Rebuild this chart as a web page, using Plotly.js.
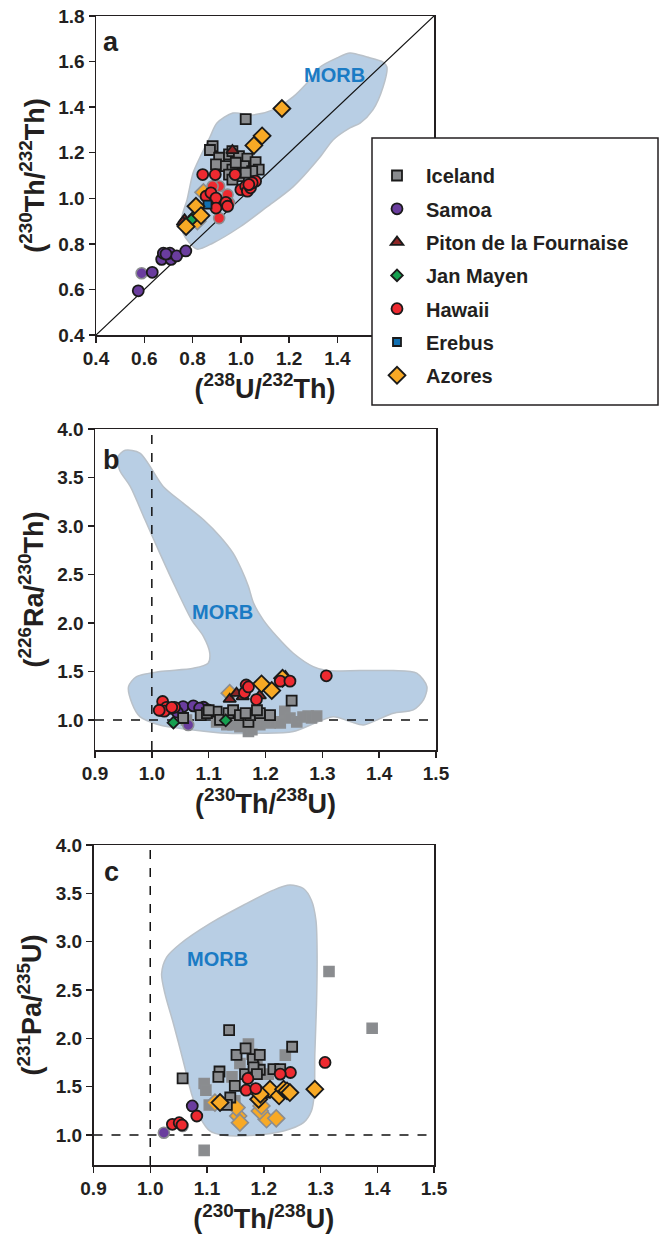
<!DOCTYPE html>
<html><head><meta charset="utf-8">
<script src="https://cdn.plot.ly/plotly-3.0.1.min.js"></script>
<style>html,body{margin:0;padding:0;background:#fff}#chart{width:664px;height:1234px}</style>
</head><body><div id="chart"></div>
<script>
// ---------- Panel a: (238U/232Th) vs (230Th/232Th) ----------
const aMorbX = [0.818,0.885,0.996,1.108,1.216,1.328,1.382,1.452,1.494,1.547,1.589,1.605,1.589,1.522,1.452,1.398,1.328,1.274,1.216,1.133,1.050,0.967,0.901,0.872,0.831,0.802,0.777,0.756,0.760,0.818];
const aMorbY = [0.777,0.804,0.874,0.962,1.050,1.181,1.256,1.309,1.330,1.388,1.488,1.576,1.598,1.620,1.638,1.616,1.576,1.506,1.445,1.388,1.366,1.374,1.330,1.269,1.181,1.111,0.993,0.918,0.848,0.777];
const equiline = [0.4, 1.8];
const aIcelandX = [1.02,0.883,0.872,0.91,0.951,0.965,0.992,1.027,1.061,1.074,0.897,0.938,0.965,1.013,1.047,0.951,0.992,1.02,0.979,0.965];
const aIcelandY = [1.347,1.229,1.212,1.178,1.193,1.207,1.185,1.174,1.159,1.126,1.149,1.141,1.126,1.141,1.119,1.104,1.097,1.112,1.156,1.082];
const aSamoaX = [0.575,0.633,0.672,0.679,0.711,0.706,0.734,0.772,0.69];
const aSamoaY = [0.594,0.675,0.732,0.759,0.732,0.759,0.747,0.769,0.755];
const aSamoaFadedX = [0.589];
const aSamoaFadedY = [0.671];
const aPitonX = [0.767,0.76,0.965];
const aPitonY = [0.906,0.895,1.21];
const aJanMayenX = [0.808,0.795];
const aJanMayenY = [0.921,0.905];
const aHawaiiX = [0.842,0.894,0.976,0.856,0.876,0.897,0.897,0.938,0.945,1.0,1.02,1.027,1.04,1.061,1.047,1.033];
const aHawaiiY = [1.104,1.104,1.104,1.009,1.024,1.001,0.957,0.982,0.965,1.038,1.053,1.031,1.046,1.075,1.068,1.06];
const aHawaiiFadedX = [0.91,0.91,0.945,0.951,0.883];
const aHawaiiFadedY = [0.913,1.053,1.016,0.979,1.053];
const aErebusX = [0.862];
const aErebusY = [0.972];
const aAzoresX = [1.17,1.088,1.054,0.814,0.835,0.773];
const aAzoresY = [1.394,1.274,1.232,0.965,0.924,0.876];
const aAzoresFadedX = [0.845,0.82];
const aAzoresFadedY = [1.026,0.9];

// ---------- Panel b: (230Th/238U) vs (226Ra/230Th) ----------
const bMorbX = [0.953,0.979,1.020,1.055,1.091,1.120,1.143,1.158,1.170,1.179,1.196,1.220,1.249,1.284,1.308,1.366,1.425,1.466,1.484,1.478,1.460,1.425,1.396,1.372,1.349,1.319,1.249,1.190,1.132,1.073,1.014,0.979,0.965,0.959,0.973,1.014,1.073,1.099,1.102,1.091,1.070,1.041,1.014,0.988,0.962,0.943,0.941,0.953];
const bMorbY = [3.780,3.752,3.408,3.236,3.064,2.892,2.720,2.548,2.376,2.204,2.032,1.860,1.688,1.550,1.509,1.509,1.509,1.482,1.344,1.206,1.103,1.069,1.000,0.948,0.983,1.034,0.880,0.862,0.862,0.897,0.948,1.034,1.172,1.344,1.447,1.499,1.533,1.585,1.688,1.860,2.032,2.376,2.720,3.064,3.408,3.580,3.718,3.780];
const refOne = [1, 1];
const bIcelandX = [1.055,1.086,1.097,1.114,1.12,1.135,1.143,1.155,1.17,1.173,1.19,1.208,1.246,1.10,1.165,1.185];
const bIcelandY = [1.02,1.05,1.07,1.085,1.0,1.07,1.10,1.05,0.98,1.05,1.07,1.05,1.20,1.10,1.07,1.10];
const bIcelandFadedX = [1.061,1.114,1.132,1.143,1.155,1.17,1.176,1.19,1.208,1.225,1.226,1.234,1.243,1.255,1.266,1.275,1.281,1.29,1.20,1.15];
const bIcelandFadedY = [1.0,0.98,0.95,0.95,0.93,0.88,0.90,0.95,0.97,0.98,0.97,1.09,1.02,0.98,1.03,1.04,1.02,1.04,1.0,1.0];
const bSamoaX = [1.055,1.073,1.091,1.099,1.084,1.045];
const bSamoaY = [1.138,1.145,1.131,1.103,1.121,1.08];
const bSamoaFadedX = [1.064];
const bSamoaFadedY = [0.948];
const bPitonX = [1.137,1.149,1.16,1.19,1.235];
const bPitonY = [1.214,1.276,1.24,1.25,1.447];
const bJanMayenX = [1.038,1.13];
const bJanMayenY = [0.972,0.995];
const bHawaiiX = [1.019,1.016,1.026,1.034,1.040,1.022,1.013,1.035,1.166,1.163,1.184,1.226,1.243,1.307,1.17];
const bHawaiiY = [1.19,1.10,1.13,1.12,1.13,1.09,1.10,1.13,1.36,1.28,1.21,1.40,1.40,1.455,1.34];
const bAzoresX = [1.193,1.211,1.23];
const bAzoresY = [1.372,1.303,1.43];
const bAzoresFadedX = [1.137];
const bAzoresFadedY = [1.276];

// ---------- Panel c: (230Th/238U) vs (231Pa/235U) ----------
const cMorbX = [1.020,1.029,1.053,1.105,1.164,1.217,1.246,1.270,1.284,1.292,1.294,1.293,1.290,1.289,1.284,1.270,1.235,1.182,1.129,1.105,1.088,1.073,1.058,1.041,1.026,1.020];
const cMorbY = [2.668,2.841,2.979,3.187,3.377,3.533,3.585,3.550,3.429,3.221,2.875,2.356,1.837,1.422,1.249,1.128,1.042,0.997,0.997,1.042,1.180,1.422,1.768,2.149,2.460,2.668];
const cIcelandX = [1.139,1.057,1.122,1.12,1.152,1.168,1.181,1.193,1.193,1.25,1.217,1.229,1.149,1.141,1.135,1.167,1.182,1.202,1.188];
const cIcelandY = [2.086,1.585,1.657,1.602,1.83,1.896,1.785,1.83,1.675,1.913,1.682,1.682,1.509,1.388,1.311,1.63,1.699,1.439,1.63];
const cIcelandFadedX = [1.315,1.391,1.095,1.095,1.098,1.104,1.173,1.158,1.144,1.238,1.149,1.188,1.208,1.179];
const cIcelandFadedY = [2.692,2.104,0.841,1.533,1.464,1.311,1.941,1.74,1.602,1.827,1.353,1.716,1.63,1.837];
const cHawaiiX = [1.308,1.247,1.229,1.172,1.169,1.186,1.082,1.039,1.051,1.056];
const cHawaiiY = [1.751,1.647,1.63,1.585,1.464,1.481,1.197,1.111,1.128,1.104];
const cSamoaX = [1.074];
const cSamoaY = [1.301];
const cSamoaFadedX = [1.024,1.057];
const cSamoaFadedY = [1.024,1.093];
const cAzoresX = [1.29,1.191,1.211,1.227,1.235,1.241,1.246,1.194,1.123];
const cAzoresY = [1.474,1.37,1.474,1.405,1.474,1.457,1.439,1.422,1.336];
const cAzoresFadedX = [1.155,1.158,1.205,1.222,1.193,1.152,1.114,1.196];
const cAzoresFadedY = [1.197,1.128,1.163,1.173,1.249,1.284,1.336,1.301];

const groupNames = ['Iceland','Samoa','Piton de la Fournaise','Jan Mayen','Hawaii','Erebus','Azores'];
const tickA = ['0.4','0.6','0.8','1.0','1.2','1.4'];

// ---------- styling ----------
const FONT = 'Liberation Sans, Arial, Helvetica, sans-serif';
const INK = '#231f20';
const STY = {
  'Iceland':  {symbol:'square', color:'#8a8c8f', size:10},
  'Samoa':    {symbol:'circle', color:'#6a3d9e', size:11},
  'Piton de la Fournaise': {symbol:'triangle-up', color:'#8e2525', size:11},
  'Jan Mayen':{symbol:'diamond', color:'#16a050', size:9},
  'Hawaii':   {symbol:'circle', color:'#ee2a30', size:11},
  'Erebus':   {symbol:'square', color:'#1170b2', size:8},
  'Azores':   {symbol:'diamond', color:'#f8a925', size:13}
};
const MORB_FILL = '#b8cee4', MORB_LINE = '#b9c1c9';

function pts(name, x, y, ax, faded, legend){
  const s = STY[name];
  const t = {type:'scatter', mode:'markers', x:x, y:y, xaxis:'x'+ax, yaxis:'y'+ax,
    name:name, showlegend:!!legend, hoverinfo:'skip',
    marker:{symbol:s.symbol, size:s.size, color:s.color,
      line:{color: faded ? '#8b8d90' : '#1a1a1a', width: faded ? 1.6 : 1.8}}};
  if (legend) t.legendgroup = name;
  return t;
}
function morb(x, y, ax){
  return {type:'scatter', mode:'lines', x:x, y:y, xaxis:'x'+ax, yaxis:'y'+ax,
    fill:'toself', fillcolor:MORB_FILL, line:{color:MORB_LINE, width:1.5, shape:'spline', smoothing:0.8},
    showlegend:false, hoverinfo:'skip'};
}
function refLine(x, y, ax, dash, w){
  return {type:'scatter', mode:'lines', x:x, y:y, xaxis:'x'+ax, yaxis:'y'+ax,
    line:{color:'#111', width:w, dash:dash}, showlegend:false, hoverinfo:'skip'};
}

const traces = [
  morb(aMorbX, aMorbY, ''),
  refLine(equiline, equiline, '', 'solid', 1.2),
  pts('Samoa', aSamoaFadedX, aSamoaFadedY, '', true),
  pts('Hawaii', aHawaiiFadedX, aHawaiiFadedY, '', true),
  pts('Azores', aAzoresFadedX, aAzoresFadedY, '', true),
  pts('Iceland', aIcelandX, aIcelandY, '', false, true),
  pts('Samoa', aSamoaX, aSamoaY, '', false, true),
  pts('Piton de la Fournaise', aPitonX, aPitonY, '', false, true),
  pts('Jan Mayen', aJanMayenX, aJanMayenY, '', false, true),
  pts('Hawaii', aHawaiiX, aHawaiiY, '', false, true),
  pts('Erebus', aErebusX, aErebusY, '', false, true),
  pts('Azores', aAzoresX, aAzoresY, '', false, true),

  morb(bMorbX, bMorbY, '2'),
  refLine(refOne, [0.69, 4.0], '2', 'dash', 1.5),
  refLine([0.9, 1.5], refOne, '2', 'dash', 1.5),
  pts('Iceland', bIcelandFadedX, bIcelandFadedY, '2', true),
  pts('Samoa', bSamoaFadedX, bSamoaFadedY, '2', true),
  pts('Azores', bAzoresFadedX, bAzoresFadedY, '2', true),
  pts('Samoa', bSamoaX, bSamoaY, '2'),
  pts('Iceland', bIcelandX, bIcelandY, '2'),
  pts('Jan Mayen', bJanMayenX, bJanMayenY, '2'),
  pts('Piton de la Fournaise', bPitonX, bPitonY, '2'),
  pts('Azores', bAzoresX, bAzoresY, '2'),
  pts('Hawaii', bHawaiiX, bHawaiiY, '2'),

  morb(cMorbX, cMorbY, '3'),
  refLine(refOne, [0.69, 4.0], '3', 'dash', 1.5),
  refLine([0.9, 1.5], refOne, '3', 'dash', 1.5),
  pts('Iceland', cIcelandFadedX, cIcelandFadedY, '3', true),
  pts('Samoa', cSamoaFadedX, cSamoaFadedY, '3', true),
  pts('Azores', cAzoresFadedX, cAzoresFadedY, '3', true),
  pts('Iceland', cIcelandX, cIcelandY, '3'),
  pts('Samoa', cSamoaX, cSamoaY, '3'),
  pts('Azores', cAzoresX, cAzoresY, '3'),
  pts('Hawaii', cHawaiiX, cHawaiiY, '3')
];

const tickFont = {family:FONT, size:19, color:INK, weight:'bold'};
const titleFont = {family:FONT, size:27, color:INK, weight:'bold'};
function axis(extra){
  return Object.assign({showline:true, linecolor:INK, linewidth:1.5, mirror:true,
    ticks:'outside', ticklen:6, tickwidth:1.5, tickcolor:INK, showgrid:false, zeroline:false,
    tickfont:tickFont, fixedrange:true}, extra);
}
const P = (px) => px/664, Q = (py) => 1 - py/1234;
function label(px, py, text, size, color){
  return {xref:'paper', yref:'paper', x:P(px), y:Q(py), xanchor:'center', yanchor:'middle',
    text:text, showarrow:false, font:{family:FONT, size:size, color:color, weight:'bold'}};
}

const layout = {
  width:664, height:1234, margin:{l:0,r:0,t:0,b:0}, paper_bgcolor:'#fff', plot_bgcolor:'#fff',
  showlegend:true,
  legend:{x:P(368), y:Q(156), xanchor:'left', yanchor:'top', bgcolor:'rgba(0,0,0,0)', borderwidth:0,
    font:{family:FONT, size:20, color:INK, weight:'bold'}, tracegroupgap:4.3, itemwidth:48, traceorder:'grouped'},
  xaxis: axis({domain:[P(96),P(434)], range:[0.4,1.8], tickvals:tickA.map(Number), ticktext:tickA, anchor:'y',
    title:{text:'(<sup>238</sup>U/<sup>232</sup>Th)', font:titleFont, standoff:10}}),
  yaxis: axis({domain:[Q(335),Q(16)], range:[0.4,1.8], dtick:0.2, tickformat:'.1f', anchor:'x',
    title:{text:'(<sup>230</sup>Th/<sup>232</sup>Th)', font:titleFont, standoff:6}}),
  xaxis2: axis({domain:[P(95),P(436)], range:[0.9,1.5], dtick:0.1, tickformat:'.1f', anchor:'y2',
    title:{text:'(<sup>230</sup>Th/<sup>238</sup>U)', font:titleFont, standoff:10}}),
  yaxis2: axis({domain:[Q(750),Q(429)], range:[0.69,4.0], tick0:1.0, dtick:0.5, tickformat:'.1f', anchor:'x2',
    title:{text:'(<sup>226</sup>Ra/<sup>230</sup>Th)', font:titleFont, standoff:6}}),
  xaxis3: axis({domain:[P(93.5),P(434)], range:[0.9,1.5], dtick:0.1, tickformat:'.1f', anchor:'y3',
    title:{text:'(<sup>230</sup>Th/<sup>238</sup>U)', font:titleFont, standoff:48}}),
  yaxis3: axis({domain:[Q(1165),Q(845)], range:[0.69,4.0], tick0:1.0, dtick:0.5, tickformat:'.1f', anchor:'x3',
    title:{text:'(<sup>231</sup>Pa/<sup>235</sup>U)', font:titleFont, standoff:6}}),
  shapes:[
    {type:'rect', xref:'paper', yref:'paper', x0:P(372), x1:P(658), y0:Q(405), y1:Q(138),
     fillcolor:'#fff', line:{color:INK, width:1.5}, layer:'above'}
  ],
  annotations:[
    label(111, 42, 'a', 27, INK),
    label(112, 460, 'b', 27, INK),
    label(111, 872, 'c', 27, INK),
    label(335, 75, 'MORB', 20, '#1b7bc4'),
    label(222, 612, 'MORB', 20, '#1b7bc4'),
    label(218, 959, 'MORB', 20, '#1b7bc4')
  ]
};

Plotly.newPlot('chart', traces, layout, {staticPlot:true, displayModeBar:false});
</script></body></html>
